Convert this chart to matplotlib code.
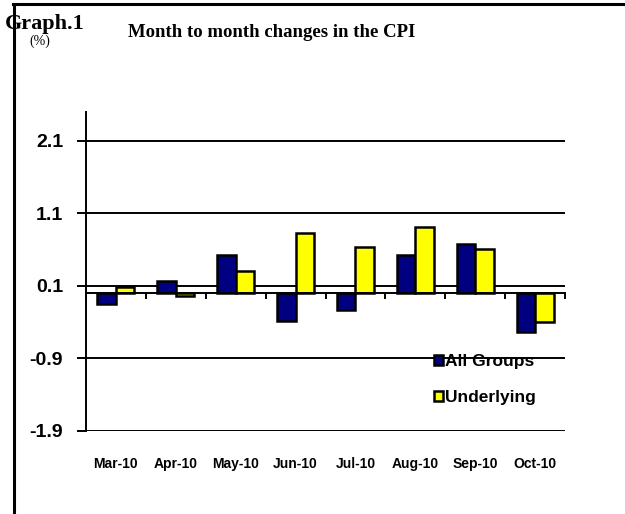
import numpy as np
import matplotlib
matplotlib.use("Agg")
import matplotlib.pyplot as plt
from matplotlib.lines import Line2D
from matplotlib.ticker import FixedLocator

months = ["Mar-10", "Apr-10", "May-10", "Jun-10", "Jul-10", "Aug-10", "Sep-10", "Oct-10"]
all_groups = [-0.15, 0.17, 0.52, -0.38, -0.23, 0.53, 0.68, -0.53]
underlying = [0.08, -0.04, 0.30, 0.83, 0.63, 0.91, 0.61, -0.40]
y_ticks = [2.1, 1.1, 0.1, -0.9, -1.9]

plt.rcParams["font.family"] = ["Liberation Sans", "DejaVu Sans"]

fig = plt.figure(figsize=(6.25, 5.14), dpi=100)
ax = fig.add_axes([0.1376, 0.1615, 0.9040 - 0.1376, 0.783 - 0.1615])

# zero line drawn by the top spine (set first: it resets the ticks)
ax.spines["top"].set_position(("data", 0))
ax.spines["top"].set_linewidth(1.4)
ax.spines["left"].set_linewidth(1.4)
ax.spines["right"].set_visible(False)
ax.spines["bottom"].set_visible(False)

x = np.arange(len(months))
w = 0.31
ax.bar(x - w / 2, all_groups, w, color="#000080", edgecolor="black",
       linewidth=1.8, label="All Groups")
ax.bar(x + w / 2, underlying, w, color="#FFFF00", edgecolor="black",
       linewidth=1.8, label="Underlying")

ax.set_xlim(-0.5, len(months) - 0.5)
ax.set_ylim(-1.9, 2.5)
ax.set_yticks(y_ticks)
ax.set_yticklabels([f"{v:.1f}" for v in y_ticks])
ax.yaxis.grid(True, color="black", linewidth=1.4)
ax.set_axisbelow(True)
ax.tick_params(axis="y", direction="out", length=6.5, width=1.4, pad=10)

# category labels at the bottom, tick marks between months on the zero line
ax.set_xticks(x)
ax.set_xticklabels(months)
ax.xaxis.set_minor_locator(FixedLocator(np.arange(len(months) + 1) - 0.5))
ax.tick_params(axis="x", which="major", length=0, pad=19, top=False)
ax.tick_params(axis="x", which="minor", bottom=False, top=True,
               direction="in", length=4, width=1.4)

for lab in ax.get_yticklabels():
    lab.set_fontsize(14)
    lab.set_fontweight("bold")
for lab in ax.get_xticklabels():
    lab.set_fontsize(10)
    lab.set_fontweight("bold")

ax.legend(loc="upper left", bbox_to_anchor=(0.712, 0.263), frameon=False,
          prop={"size": 12.5, "weight": "bold"}, handlelength=0.5,
          handleheight=0.5, handletextpad=0.15, labelspacing=1.2,
          borderaxespad=0)

serif = ["Liberation Serif", "DejaVu Serif"]
fig.text(0.008, 0.9436, "Graph.1", fontsize=16, fontweight="bold",
         family=serif, va="baseline")
fig.text(0.434, 0.928, "Month to month changes in the CPI", fontsize=13.5,
         fontweight="bold", family=serif, ha="center", va="baseline")
fig.text(0.063, 0.913, "(%)", fontsize=10, family=serif,
         ha="center", va="baseline")

# page frame
fig.add_artist(Line2D([0.020, 1.0], [0.993, 0.993], color="black", linewidth=2.2))
fig.add_artist(Line2D([0.0224, 0.0224], [0.0, 0.993], color="black", linewidth=2.2))

fig.savefig("out.png", dpi=100)
